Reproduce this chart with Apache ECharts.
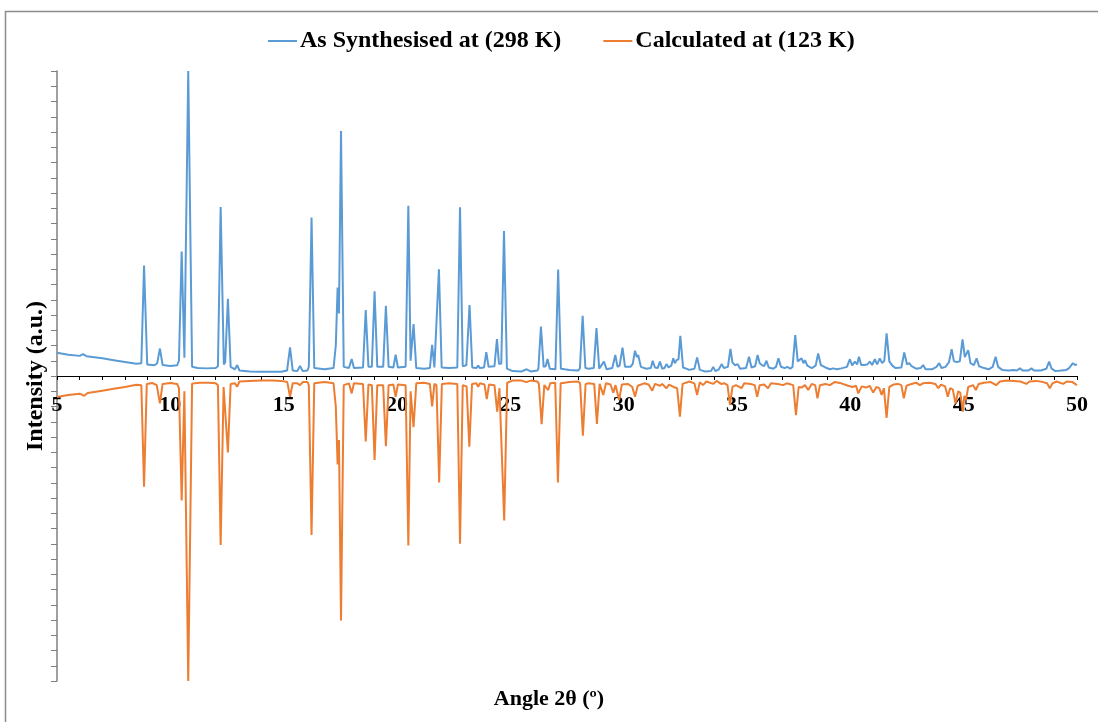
<!DOCTYPE html>
<html>
<head>
<meta charset="utf-8">
<title>PXRD pattern</title>
<script src="https://cdn.jsdelivr.net/npm/echarts@6/dist/echarts.min.js"></script>
<style>
  html, body { margin: 0; padding: 0; background: #ffffff; }
  #chart { width: 1098px; height: 722px; }
</style>
</head>
<body>
<div id="chart"></div>
<script>
// Powder pattern of the bulk sample, [2θ (deg), intensity (a.u.)]
const synthesised = [
  [5.0,7.6],[5.5,7.0],[6.0,6.6],[6.15,7.2],[6.3,6.5],[7.0,5.8],[7.5,5.2],[8.0,4.6],[8.5,4.0],[8.72,4.2],
  [8.84,36.2],[8.98,3.8],[9.3,3.5],[9.42,4.2],[9.54,9.0],[9.66,3.6],[10.0,3.3],[10.3,3.5],[10.38,5],
  [10.5,40.8],[10.62,6.0],[10.68,6.5],[10.79,100],[10.84,100],[10.96,3],[11.2,2.6],[11.6,2.5],[12.0,2.6],
  [12.1,3.2],[12.22,55.4],[12.36,3.8],[12.42,4.5],[12.54,25.3],[12.66,3.0],[12.85,2.2],[12.95,3.6],[13.05,1.8],
  [13.5,1.5],[14.0,1.4],[14.5,1.4],[14.9,1.4],[15.15,1.8],[15.28,9.4],[15.4,1.8],[15.6,1.6],[15.72,3.3],
  [15.84,1.6],[16.05,1.8],[16.11,3],[16.23,52],[16.35,2.6],[16.8,2.2],[17.2,2.6],[17.3,10],[17.38,29],
  [17.44,20.5],[17.53,80.3],[17.65,3],[17.88,2.6],[18.0,5.6],[18.1,2.6],[18.5,2.8],[18.62,21.6],[18.74,3],
  [18.89,3],[19.01,27.8],[19.13,3],[19.39,3],[19.51,23],[19.63,3],[19.84,2.8],[19.94,7],[20.04,2.8],
  [20.38,3],[20.5,55.8],[20.6,5],[20.65,5.2],[20.73,17],[20.85,2.6],[21.2,2.4],[21.45,2.6],[21.55,10.2],
  [21.65,2.8],[21.73,3],[21.85,35],[21.97,2.8],[22.3,2.6],[22.66,2.8],[22.78,55.3],[22.9,3.2],[23.06,3.5],
  [23.2,23.3],[23.32,2.8],[23.5,2.6],[23.58,3.4],[23.66,2.6],[23.84,2.8],[23.94,7.8],[24.04,3],[24.3,3.2],
  [24.41,12.1],[24.5,4],[24.6,4],[24.72,47.5],[24.85,2.4],[25.1,1.6],[25.5,1.5],[25.72,2.2],[25.9,1.5],
  [26.2,1.8],[26.24,2.6],[26.35,16.2],[26.47,3],[26.56,3.2],[26.64,5.6],[26.74,2.4],[26.99,2.2],[27.11,34.9],
  [27.23,2.4],[27.4,2.2],[27.48,2.6],[27.6,2],[28.0,1.8],[28.07,2.5],[28.19,19.7],[28.31,2.6],[28.45,2.4],
  [28.68,2.6],[28.8,15.7],[28.92,2.4],[29.0,2.5],[29.13,4.7],[29.25,2.2],[29.5,2.6],[29.63,6.9],[29.73,3],
  [29.82,3.4],[29.95,9.3],[30.06,3],[30.3,3],[30.4,4],[30.5,8.3],[30.58,6.2],[30.64,6.9],[30.76,3],[31.0,2.4],
  [31.2,2.6],[31.28,5],[31.38,2.8],[31.5,2.6],[31.6,4.7],[31.7,2.4],[31.8,2.6],[31.89,3.9],[31.98,2.8],
  [32.1,3.4],[32.19,5.8],[32.26,4.2],[32.33,5.2],[32.42,5.5],[32.5,13.2],[32.62,2.8],[32.9,2],[33.12,2.4],
  [33.24,6.1],[33.36,2],[33.6,1.5],[33.85,1.6],[33.95,3],[34.05,1.6],[34.2,2.2],[34.32,3.9],[34.42,2.6],
  [34.6,3],[34.71,8.9],[34.8,4.4],[34.92,3.5],[35.03,3.9],[35.14,2.4],[35.4,2.6],[35.53,6.3],[35.64,2.8],
  [35.8,3.2],[35.91,6.9],[36.0,4.2],[36.1,3.6],[36.2,3.2],[36.3,5],[36.4,2.8],[36.6,2.4],[36.72,3],
  [36.83,5.8],[36.94,3],[37.1,2.6],[37.22,3],[37.35,2.4],[37.45,3],[37.57,13.4],[37.68,4.8],[37.76,4.6],
  [37.85,5.8],[37.93,4.2],[38.0,5.2],[38.1,3.4],[38.3,2.6],[38.47,3.4],[38.58,7.4],[38.7,3.6],[38.9,2.8],
  [39.1,2.2],[39.24,2.5],[39.4,2.2],[39.6,2.5],[39.85,3],[39.98,5.5],[40.08,3.5],[40.2,4.7],[40.3,3.8],
  [40.38,6.3],[40.48,3.6],[40.6,3.6],[40.75,3.8],[40.86,4.7],[40.96,3.6],[41.08,5.5],[41.18,3.8],[41.3,5.8],
  [41.4,4.2],[41.5,5],[41.6,14],[41.72,4.8],[41.85,3.4],[42.0,2.6],[42.25,2.8],[42.38,7.7],[42.5,3.8],
  [42.6,4.2],[42.7,3.2],[42.9,2.4],[43.1,2.6],[43.21,3.6],[43.32,2.2],[43.6,2.2],[43.8,3],[43.92,4.2],
  [44.02,2.6],[44.2,3],[44.35,4.5],[44.47,8.8],[44.57,4.8],[44.7,4.6],[44.83,4.8],[44.95,12],[45.05,6.2],
  [45.2,8.5],[45.3,4.2],[45.45,3.6],[45.57,5.8],[45.68,3.2],[45.9,2.6],[46.1,2.2],[46.28,3],[46.41,6.3],
  [46.52,3],[46.7,2],[47.0,1.8],[47.2,2],[47.35,1.8],[47.48,2.5],[47.6,1.8],[47.86,1.8],[47.99,2.5],
  [48.1,1.8],[48.4,1.8],[48.65,2.4],[48.77,4.7],[48.88,2.4],[49.05,1.6],[49.3,1.8],[49.53,2],[49.65,2.6],
  [49.82,4.2],[49.92,3.6],[50.0,3.8]
];

// Pattern simulated from the single-crystal structure, drawn inverted below the baseline
const calculated = [
  [5.0,-6.9],[5.5,-6.2],[6.0,-5.8],[6.2,-6.5],[6.35,-5.6],[7.0,-4.8],[7.5,-4.2],[8.0,-3.6],[8.5,-2.9],
  [8.72,-3],[8.84,-36.3],[8.96,-2.6],[9.2,-2.3],[9.4,-3],[9.54,-9],[9.66,-2.6],[10.0,-2.3],[10.3,-2.6],
  [10.38,-4],[10.5,-40.8],[10.62,-5],[10.68,-5.5],[10.79,-100],[10.84,-100],[10.96,-2.5],[11.3,-2.2],
  [11.7,-2.2],[12.0,-2.4],[12.1,-3],[12.22,-55.4],[12.35,-3.6],[12.42,-4],[12.54,-25.1],[12.66,-2.6],
  [12.85,-2.4],[12.95,-3.5],[13.05,-1.8],[13.5,-1.6],[14.0,-1.5],[14.5,-1.5],[14.9,-1.6],[15.16,-2],
  [15.28,-6.8],[15.4,-2.4],[15.6,-2.4],[15.72,-3],[15.84,-2],[16.05,-2],[16.11,-3],[16.23,-52.1],
  [16.35,-2.4],[16.8,-2],[17.2,-2.4],[17.3,-10],[17.38,-29],[17.44,-21],[17.53,-80.2],[17.65,-3],
  [17.88,-2.4],[18.0,-5.7],[18.1,-2.4],[18.5,-2.6],[18.62,-21.5],[18.74,-2.8],[18.89,-3],[19.01,-27.5],
  [19.13,-3],[19.39,-3],[19.51,-23],[19.63,-3],[19.84,-2.8],[19.94,-6.8],[20.04,-2.8],[20.38,-3],
  [20.5,-55.6],[20.6,-5],[20.65,-5],[20.73,-16.8],[20.85,-2.4],[21.2,-2.2],[21.45,-2.6],[21.55,-10],
  [21.65,-2.6],[21.74,-3],[21.86,-34.9],[21.98,-2.6],[22.3,-2.4],[22.66,-2.6],[22.78,-55],[22.9,-3],
  [23.07,-3.4],[23.19,-23.2],[23.31,-2.6],[23.5,-2.4],[23.58,-3.5],[23.66,-2.4],[23.86,-2.8],[23.96,-7.6],
  [24.06,-2.8],[24.3,-3],[24.42,-11.7],[24.52,-4],[24.6,-4],[24.73,-47.4],[24.86,-2.2],[25.1,-1.5],
  [25.5,-1.5],[25.7,-2],[25.9,-1.5],[26.2,-1.8],[26.26,-2.6],[26.38,-15.8],[26.5,-3],[26.58,-3],
  [26.67,-4.6],[26.76,-2.4],[26.98,-2.2],[27.1,-34.9],[27.22,-2.4],[27.4,-2.2],[27.48,-2.5],[27.6,-2],
  [28.0,-1.8],[28.08,-2.5],[28.2,-19.6],[28.32,-2.6],[28.45,-2.4],[28.7,-2.6],[28.82,-15.7],[28.94,-2.6],
  [29.0,-3],[29.1,-6.2],[29.22,-2.4],[29.42,-2.8],[29.54,-5.5],[29.64,-3],[29.7,-3.4],[29.8,-7.9],
  [29.92,-2.8],[30.2,-2.6],[30.38,-3.6],[30.5,-6.8],[30.62,-3.2],[30.9,-2.4],[31.1,-2.8],[31.26,-4.8],
  [31.38,-2.6],[31.6,-3.2],[31.7,-2.6],[31.89,-4],[32.0,-2.8],[32.2,-3.6],[32.36,-4],[32.48,-13.3],
  [32.6,-2.6],[32.9,-1.8],[33.12,-2.4],[33.24,-6.2],[33.36,-2],[33.5,-3],[33.65,-1.8],[33.95,-2.6],
  [34.1,-1.6],[34.3,-2.6],[34.45,-2.4],[34.58,-3],[34.69,-9.5],[34.8,-3.6],[34.95,-3],[35.2,-4],
  [35.32,-2.4],[35.6,-2.6],[35.78,-3],[35.89,-6.8],[36.0,-3],[36.2,-2.8],[36.37,-4],[36.5,-2.4],
  [36.8,-2.6],[37.03,-3],[37.2,-2.4],[37.48,-3],[37.6,-12.8],[37.72,-3.6],[37.85,-3.8],[38.0,-3],
  [38.14,-4.6],[38.3,-2.6],[38.45,-3],[38.55,-7.3],[38.66,-3],[38.9,-2.6],[39.1,-3],[39.3,-2],
  [39.6,-2.4],[39.9,-3.2],[40.1,-3.6],[40.25,-3.2],[40.35,-5.7],[40.5,-3.4],[40.7,-3.8],[40.85,-3.2],
  [41.01,-5.4],[41.15,-3.6],[41.28,-4],[41.38,-6.2],[41.48,-4],[41.6,-13.7],[41.72,-3.6],[41.9,-2.8],
  [42.1,-2.6],[42.25,-3],[42.36,-7.3],[42.48,-3.2],[42.7,-2.6],[42.9,-2.2],[43.07,-3],[43.2,-2.4],
  [43.5,-2.2],[43.75,-2.6],[43.88,-4],[44.0,-2.8],[44.18,-3.4],[44.3,-6.8],[44.4,-4],[44.52,-4.4],
  [44.64,-9],[44.76,-5],[44.85,-5.5],[44.96,-11.7],[45.03,-6.5],[45.1,-7.9],[45.2,-3.6],[45.42,-3],
  [45.54,-4.6],[45.66,-2.6],[45.9,-2.2],[46.2,-2],[46.43,-3],[46.6,-1.8],[46.9,-1.5],[47.2,-1.6],
  [47.5,-1.8],[47.77,-2.6],[47.9,-1.8],[48.2,-1.6],[48.5,-2],[48.68,-2.4],[48.8,-4],[48.92,-2.4],
  [49.1,-1.8],[49.39,-2.6],[49.55,-1.8],[49.8,-2],[50.0,-3]
];

const seriesNames = ['As Synthesised at (298 K)', 'Calculated at (123 K)'];
const angleTickLabels = ['5', '10', '15', '20', '25', '30', '35', '40', '45', '50'];

const SERIF = '"Liberation Serif", "Times New Roman", serif';
const GRID_TOP = 71, GRID_BOTTOM = 41, HEIGHT = 722;
// The angle axis sits on the zero line, halfway down the plot area
const zeroLineOffset = -(HEIGHT - GRID_TOP - GRID_BOTTOM) / 2;

const chart = echarts.init(document.getElementById('chart'), null, { renderer: 'canvas' });

chart.setOption({
  animation: false,
  backgroundColor: '#ffffff',
  color: ['#5B9BD5', '#ED7D31'],
  legend: {
    top: 24,
    left: 263,
    itemWidth: 29,
    itemHeight: 2,
    itemGap: 42,
    icon: 'rect',
    textStyle: { fontFamily: SERIF, fontWeight: 'bold', fontSize: 24, color: '#000', padding: [0, 0, 0, -2] },
    data: seriesNames
  },
  grid: { left: 57, right: 21, top: GRID_TOP, bottom: GRID_BOTTOM, containLabel: false },
  xAxis: {
    type: 'value',
    position: 'bottom',
    offset: zeroLineOffset,
    min: 5,
    max: 50,
    interval: 1,
    axisLine: { onZero: false, lineStyle: { color: '#000', width: 1.2 } },
    axisTick: { show: true, inside: false, length: 4, lineStyle: { color: '#000', width: 1 } },
    splitLine: { show: false },
    axisLabel: {
      margin: 18,
      fontFamily: SERIF,
      fontWeight: 'bold',
      fontSize: 22,
      color: '#000',
      formatter: function (v) {
        const s = String(Math.round(v));
        return angleTickLabels.indexOf(s) >= 0 && Math.abs(v - Math.round(v)) < 1e-6 ? s : '';
      }
    }
  },
  yAxis: {
    type: 'value',
    min: -100,
    max: 100,
    interval: 5,
    name: 'Intensity (a.u.)',
    nameLocation: 'middle',
    nameGap: 9,
    nameRotate: 90,
    nameTextStyle: { fontFamily: SERIF, fontWeight: 'bold', fontSize: 24, color: '#000' },
    axisLine: { show: true, lineStyle: { color: '#7f7f7f', width: 1.5 } },
    axisTick: { show: true, inside: false, length: 6, lineStyle: { color: '#7f7f7f', width: 1 } },
    axisLabel: { show: false },
    splitLine: { show: false }
  },
  graphic: [
    {
      type: 'rect',
      silent: true,
      shape: { x: 5.5, y: 11.5, width: 1200, height: 800 },
      style: { fill: 'none', stroke: '#8c8c8c', lineWidth: 1.5 }
    },
    {
      type: 'text',
      left: 'center',
      top: 688,
      style: {
        text: 'Angle 2θ (º)',
        fontFamily: SERIF,
        fontWeight: 'bold',
        fontSize: 22,
        fill: '#000'
      }
    }
  ],
  series: [
    {
      name: seriesNames[0],
      type: 'line',
      data: synthesised,
      symbol: 'none',
      showSymbol: false,
      sampling: false,
      lineStyle: { width: 2, color: '#5B9BD5' },
      z: 3
    },
    {
      name: seriesNames[1],
      type: 'line',
      data: calculated,
      symbol: 'none',
      showSymbol: false,
      sampling: false,
      lineStyle: { width: 2, color: '#ED7D31' },
      z: 2
    }
  ]
});
</script>
</body>
</html>
